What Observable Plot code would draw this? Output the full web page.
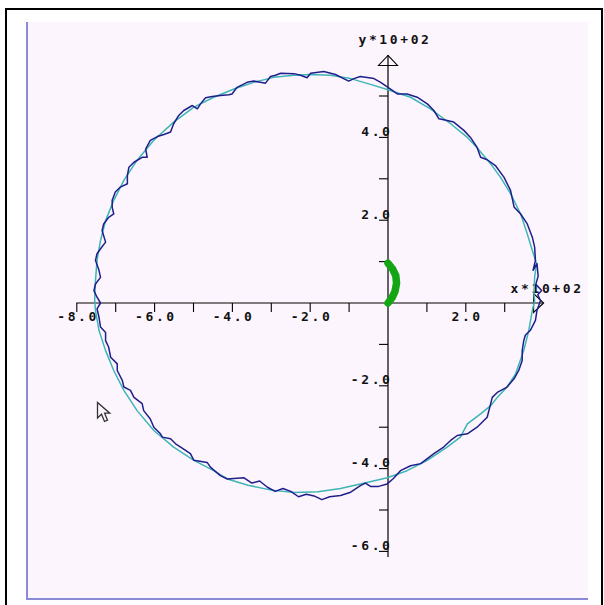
<!DOCTYPE html>
<html>
<head>
<meta charset="utf-8">
<script src="https://cdn.jsdelivr.net/npm/d3@7"></script>
<script src="https://cdn.jsdelivr.net/npm/@observablehq/plot@0.6"></script>
<style>
  html, body { margin: 0; padding: 0; background: #ffffff; width: 604px; height: 605px; overflow: hidden; }
  #frame { position: absolute; left: 5px; top: 8px; width: 594px; height: 640px; border: 2px solid #000; }
  #panel { position: absolute; left: 26px; top: 22px; width: 560px; height: 576px;
           border-left: 2px solid #8a8ad6; border-bottom: 2px solid #8a8ad6; background: #fdf5fd; }
  #panel svg text { letter-spacing: 2.6px; }
  #pointer { position: absolute; left: 96px; top: 401px; }
</style>
</head>
<body>
<div id="frame"></div>
<div id="panel"></div>
<svg id="pointer" width="18" height="26" viewBox="0 0 18 26">
  <path d="M1.5 1.5 L1.5 17 L5.5 13.2 L8.5 20.5 L11.5 19.2 L8.6 12.2 L13.8 12.2 Z" fill="#fdf5fd" stroke="#333" stroke-width="1.3" stroke-linejoin="miter"/>
</svg>
<script>
// Axis ticks (values in units of 10^2) and their printed labels
const xMajor = [-8, -6, -4, -2, 2];
const xMajorLabels = ["-8.0", "-6.0", "-4.0", "-2.0", "2.0"];
const xMinor = [-7, -5, -3, -1, 1, 3];
const yMajor = [4, 2, -2, -4, -6];
const yMajorLabels = ["4.0", "2.0", "-2.0", "-4.0", "-6.0"];
const yMinor = [5, 3, 1, -1, -3, -5];
const xAxisSpan = [-8, 4.0];
const yAxisSpan = [-6.15, 5.98];

// Smooth orbit (cyan), traced counter-clockwise from the top crossing of the y axis
const orbit = [
  [0.00, 5.15], [-0.45, 5.28], [-0.96, 5.42], [-1.48, 5.50], [-1.99, 5.52], [-2.42, 5.50],
  [-2.94, 5.45], [-3.45, 5.33], [-3.96, 5.17], [-4.48, 4.97], [-4.99, 4.73], [-5.51, 4.37],
  [-6.02, 3.93], [-6.45, 3.45], [-6.79, 2.96], [-7.05, 2.48], [-7.26, 1.99], [-7.39, 1.51],
  [-7.48, 1.03], [-7.52, 0.54], [-7.54, 0.06], [-7.52, -0.18], [-7.43, -0.66], [-7.26, -1.15],
  [-7.05, -1.63], [-6.79, -2.11], [-6.45, -2.60], [-6.02, -3.08], [-5.51, -3.48], [-4.99, -3.80],
  [-4.48, -4.05], [-4.13, -4.25], [-3.60, -4.40], [-3.00, -4.52], [-2.40, -4.58], [-1.80, -4.56],
  [-1.22, -4.48], [-0.71, -4.37], [-0.02, -4.22], [0.49, -4.05], [1.01, -3.80], [1.52, -3.48],
  [1.86, -3.24], [2.04, -2.92], [2.38, -2.68], [2.64, -2.48], [2.81, -2.28], [3.06, -2.03],
  [3.28, -1.71], [3.49, -1.15], [3.62, -0.66], [3.71, -0.18], [3.77, 0.06], [3.75, 0.22],
  [3.77, 0.63], [3.82, 0.95], [3.71, 1.27], [3.58, 1.67], [3.41, 2.15], [3.15, 2.64],
  [2.89, 3.04], [2.64, 3.36], [2.29, 3.75], [2.04, 4.00], [1.61, 4.33], [1.09, 4.69],
  [0.58, 4.97], [0.00, 5.15]
];

// Perturbed orbit (dark blue) with its small periodic kinks, same direction of travel
const perturbed = [
  [0.00, 5.21], [-0.19, 5.33], [-0.36, 5.42], [-0.71, 5.47], [-0.88, 5.42], [-1.01, 5.36],
  [-1.14, 5.42], [-1.35, 5.52], [-1.65, 5.59], [-1.99, 5.55], [-2.08, 5.44], [-2.25, 5.50],
  [-2.42, 5.54], [-2.76, 5.55], [-2.89, 5.50], [-3.02, 5.47], [-3.15, 5.31], [-3.28, 5.33],
  [-3.45, 5.36], [-3.62, 5.33], [-3.88, 5.21], [-4.01, 5.05], [-4.09, 5.03], [-4.31, 5.01],
  [-4.52, 4.99], [-4.69, 4.96], [-4.82, 4.81], [-4.90, 4.69], [-5.03, 4.77], [-5.25, 4.65],
  [-5.38, 4.53], [-5.51, 4.33], [-5.59, 4.13], [-5.76, 4.07], [-5.93, 4.02], [-6.11, 3.93],
  [-6.23, 3.72], [-6.19, 3.52], [-6.32, 3.52], [-6.53, 3.40], [-6.66, 3.28], [-6.70, 3.08],
  [-6.70, 2.88], [-6.88, 2.80], [-7.01, 2.68], [-7.09, 2.48], [-7.09, 2.31], [-7.05, 2.15],
  [-7.18, 2.07], [-7.31, 1.91], [-7.35, 1.75], [-7.26, 1.47], [-7.39, 1.31], [-7.48, 1.19],
  [-7.52, 1.03], [-7.43, 0.79], [-7.39, 0.62], [-7.52, 0.46], [-7.56, 0.30], [-7.48, 0.14],
  [-7.39, 0.00], [-7.48, -0.14], [-7.43, -0.34], [-7.39, -0.58], [-7.26, -0.71], [-7.26, -0.91],
  [-7.18, -1.07], [-7.13, -1.31], [-6.96, -1.47], [-6.96, -1.63], [-6.83, -1.87], [-6.79, -2.03],
  [-6.62, -2.11], [-6.53, -2.28], [-6.32, -2.43], [-6.28, -2.60], [-6.11, -2.80], [-6.02, -3.00],
  [-5.85, -3.16], [-5.80, -3.24], [-5.59, -3.28], [-5.46, -3.40], [-5.33, -3.48], [-5.08, -3.64],
  [-4.99, -3.80], [-4.65, -3.85], [-4.56, -3.97], [-4.31, -4.17], [-4.13, -4.25], [-3.71, -4.22],
  [-3.50, -4.35], [-3.30, -4.30], [-3.10, -4.45], [-2.90, -4.55], [-2.70, -4.48], [-2.50, -4.55],
  [-2.30, -4.68], [-2.10, -4.62], [-1.90, -4.66], [-1.70, -4.75], [-1.50, -4.68], [-1.22, -4.65],
  [-0.96, -4.57], [-0.71, -4.41], [-0.58, -4.35], [-0.45, -4.43], [-0.24, -4.43], [-0.02, -4.37],
  [0.14, -4.24], [0.32, -4.05], [0.58, -3.93], [0.84, -3.88], [1.18, -3.64], [1.43, -3.48],
  [1.61, -3.32], [1.78, -3.20], [2.04, -3.16], [2.29, -3.00], [2.55, -2.76], [2.64, -2.43],
  [2.68, -2.28], [2.81, -2.16], [3.06, -2.03], [3.24, -1.83], [3.36, -1.63], [3.45, -1.39],
  [3.45, -1.15], [3.49, -0.91], [3.53, -0.78], [3.66, -0.66], [3.79, -0.42], [3.83, -0.18],
  [3.92, 0.06], [3.85, 0.20], [3.95, 0.30], [3.80, 0.45], [3.86, 0.65], [3.83, 0.95],
  [3.73, 0.79], [3.79, 1.03], [3.77, 1.35], [3.71, 1.59], [3.58, 1.91], [3.41, 2.15],
  [3.24, 2.32], [3.15, 2.72], [2.98, 3.04], [2.76, 3.32], [2.55, 3.46], [2.38, 3.52],
  [2.29, 3.76], [2.12, 4.00], [1.95, 4.17], [1.69, 4.37], [1.52, 4.41], [1.31, 4.45],
  [1.18, 4.65], [1.01, 4.81], [0.75, 4.97], [0.49, 5.05], [0.24, 5.05], [0.00, 5.21]
];

// Short arc traced near the origin (green)
const innerArc = [
  [0.00, 0.00], [0.10, 0.12], [0.18, 0.28], [0.22, 0.48], [0.20, 0.66], [0.12, 0.82], [0.00, 0.96]
];

// Marker shapes for the hand-built axes
const arrowHead = { draw(ctx) { ctx.moveTo(0, 0); ctx.lineTo(9.5, 10); ctx.lineTo(-9.5, 10); ctx.closePath(); } };
const tickDown = { draw(ctx) { ctx.moveTo(0, 0); ctx.lineTo(0, 9); } };
const tickLeft = { draw(ctx) { ctx.moveTo(0, 0); ctx.lineTo(-9, 0); } };

const labelFont = { fontFamily: "'DejaVu Sans Mono', monospace", fontWeight: "bold", fontSize: 13, fill: "#111" };

const chart = Plot.plot({
  width: 560,
  height: 576,
  margin: 0,
  x: { domain: [-8, 4], range: [48.3, 515.1] },
  y: { domain: [-6, 6], range: [528.9, 32.1] },
  axis: null,
  style: { background: "transparent", overflow: "visible" },
  marks: [
    // axes crossing at the origin
    Plot.ruleY([0], { x1: xAxisSpan[0], x2: xAxisSpan[1], stroke: "#000", strokeWidth: 1.2 }),
    Plot.ruleX([0], { y1: yAxisSpan[0], y2: yAxisSpan[1], stroke: "#000", strokeWidth: 1.2 }),
    Plot.dot([0], { x: 0, y: yAxisSpan[1], symbol: arrowHead, fill: "none", stroke: "#000", strokeWidth: 1.1 }),
    Plot.dot([0], { x: xAxisSpan[1], y: 0, symbol: arrowHead, rotate: 90, fill: "none", stroke: "#000", strokeWidth: 1.1 }),
    Plot.dot(xMajor.concat(xMinor), { x: d => d, y: 0, symbol: tickDown, fill: "none", stroke: "#000", strokeWidth: 1.1 }),
    Plot.dot(yMajor.concat(yMinor), { x: 0, y: d => d, symbol: tickLeft, fill: "none", stroke: "#000", strokeWidth: 1.1 }),
    Plot.text(xMajor, { x: d => d, y: 0, text: (d, i) => xMajorLabels[i], dy: 13.5, dx: 1.3, ...labelFont }),
    Plot.text(yMajor, { x: 0, y: d => d, text: (d, i) => yMajorLabels[i], textAnchor: "end", dx: 4.5, dy: -5.5, ...labelFont }),
    Plot.text(["y*10+02"], { x: 0, y: yAxisSpan[1], text: d => d, dx: 7, dy: -16, ...labelFont }),
    Plot.text(["x*10+02"], { x: xAxisSpan[1], y: 0, text: d => d, textAnchor: "start", dx: -33, dy: -14.5, ...labelFont }),
    // trajectories
    Plot.line(orbit, { x: d => d[0], y: d => d[1], stroke: "#3db5b5", strokeWidth: 1.5 }),
    Plot.line(perturbed, { x: d => d[0], y: d => d[1], stroke: "#1f1f8c", strokeWidth: 1.5 }),
    Plot.line(innerArc, { x: d => d[0], y: d => d[1], stroke: "#14a514", strokeWidth: 7.5, strokeLinecap: "round" })
  ]
});

document.getElementById("panel").appendChild(chart);
</script>
</body>
</html>
